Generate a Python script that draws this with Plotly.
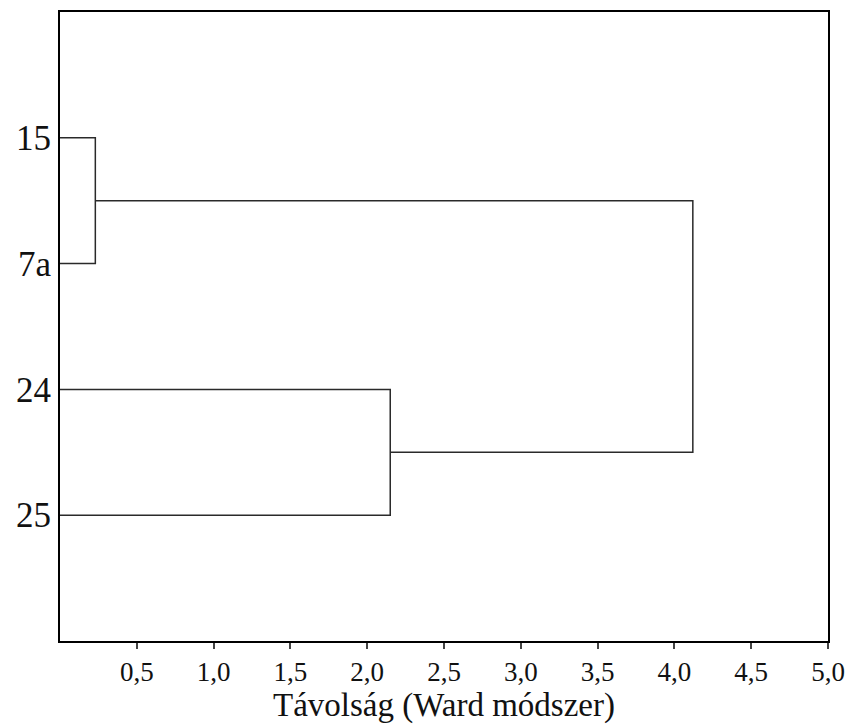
import plotly.graph_objects as go

# Leaves in top-to-bottom order and merge heights (Ward distance)
leaves = ["15", "7a", "24", "25"]
merge_a = ("15", "7a", 0.23)
merge_b = ("24", "25", 2.15)
merge_root = 4.12
x_ticks = [0.5, 1.0, 1.5, 2.0, 2.5, 3.0, 3.5, 4.0, 4.5, 5.0]
x_tick_labels = ["0,5", "1,0", "1,5", "2,0", "2,5", "3,0", "3,5", "4,0", "4,5", "5,0"]

pos = {name: i + 1 for i, name in enumerate(leaves)}

def link(y1, x1, y2, x2, h):
    # U-shaped connector from (x1,y1) and (x2,y2) joining at distance h
    return [x1, h, h, x2, None], [y1, y1, y2, y2, None]

xs, ys = [], []
ya1, ya2 = pos[merge_a[0]], pos[merge_a[1]]
sx, sy = link(ya1, 0, ya2, 0, merge_a[2]); xs += sx; ys += sy
yb1, yb2 = pos[merge_b[0]], pos[merge_b[1]]
sx, sy = link(yb1, 0, yb2, 0, merge_b[2]); xs += sx; ys += sy
ca, cb = (ya1 + ya2) / 2, (yb1 + yb2) / 2
sx, sy = link(ca, merge_a[2], cb, merge_b[2], merge_root); xs += sx; ys += sy

fig = go.Figure()
fig.add_trace(go.Scatter(x=xs, y=ys, mode="lines",
                         line=dict(color="#2a2a2a", width=1.5),
                         hoverinfo="skip", showlegend=False))

font = "Liberation Serif, Times New Roman, serif"
fig.update_layout(
    width=846, height=716,
    margin=dict(l=52, r=26, t=2, b=83),
    paper_bgcolor="white", plot_bgcolor="white",
    font=dict(family=font, color="black"),
    showlegend=False,
)
fig.update_xaxes(
    range=[0, 5], tickvals=x_ticks, ticktext=x_tick_labels,
    ticks="outside", ticklen=6, tickwidth=1.5, tickcolor="#444",
    tickfont=dict(size=27, family=font, color="#111"),
    showline=True, linecolor="black", linewidth=2, mirror=True,
    showgrid=False, zeroline=False,
    title=dict(text="Távolság (Ward módszer)", font=dict(size=33, family=font, color="#111"), standoff=0),
)
fig.update_yaxes(
    range=[5, 0], tickvals=[pos[n] for n in leaves], ticktext=leaves,
    ticks="", tickfont=dict(size=35, family=font, color="#111"),
    showline=True, linecolor="black", linewidth=2, mirror=True,
    showgrid=False, zeroline=False,
)
fig.write_html("out.html")
